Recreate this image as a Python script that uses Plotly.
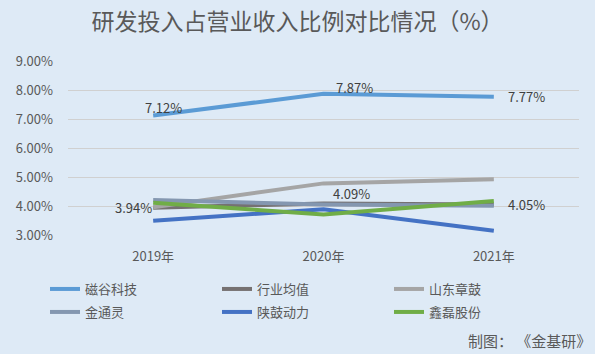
import plotly.graph_objects as go

years = ["2019年", "2020年", "2021年"]
series_names = ["磁谷科技", "行业均值", "山东章鼓", "金通灵", "陕鼓动力", "鑫磊股份"]
cigu = [0.0712, 0.0787, 0.0777]
industry_avg = [0.0394, 0.0409, 0.0405]
shandong = [0.0396, 0.0478, 0.0492]
jintongling = [0.0421, 0.0405, 0.0401]
shaangu = [0.0349, 0.0389, 0.0315]
xinlei = [0.0411, 0.0371, 0.0417]
series_values = [cigu, industry_avg, shandong, jintongling, shaangu, xinlei]
colors = ["#5B9BD5", "#757171", "#A5A5A5", "#8497B0", "#4472C4", "#70AD47"]
y_ticks = [0.03, 0.04, 0.05, 0.06, 0.07, 0.08, 0.09]
y_tick_labels = ["3.00%", "4.00%", "5.00%", "6.00%", "7.00%", "8.00%", "9.00%"]

font = "Noto Sans CJK SC"
bg = "#DEEAF6"

fig = go.Figure()
for i, (name, vals, c) in enumerate(zip(series_names, series_values, colors)):
    fig.add_trace(go.Scatter(x=years, y=vals, name=name, mode="lines",
                             line=dict(color=c, width=4),
                             legend="legend" if i < 3 else "legend2"))

# data labels for 磁谷科技 and 行业均值
label_shifts = [(10, 8), (31, 6), (33, 0)]
label_shifts2 = [(-20, 0), (28, 10), (33, 0)]
for vals, shifts in ((cigu, label_shifts), (industry_avg, label_shifts2)):
    for x, v, (dx, dy) in zip(years, vals, shifts):
        fig.add_annotation(x=x, y=v, text=f"{v*100:.2f}%", showarrow=False,
                           xshift=dx, yshift=dy,
                           font=dict(family=font, size=13, color="#404040"))

fig.add_annotation(text="制图： 《金基研》", xref="paper", yref="paper",
                   x=(593 - 68) / 511, y=-(340 - 235) / 174, xanchor="right", yanchor="middle",
                   showarrow=False, font=dict(family=font, size=15, color="#595959"))

legend_common = dict(orientation="h", xanchor="left", yanchor="middle",
                     entrywidth=127, entrywidthmode="pixels", itemwidth=30,
                     bgcolor="rgba(0,0,0,0)",
                     font=dict(family=font, size=13, color="#595959"))

fig.update_layout(
    width=595, height=354,
    paper_bgcolor=bg, plot_bgcolor=bg,
    margin=dict(l=68, r=16, t=61, b=119),
    title=dict(text="研发投入占营业收入比例对比情况（%）", x=0.5, xanchor="center",
               y=1 - 22 / 354, yanchor="middle",
               font=dict(family=font, size=23, color="#595959")),
    xaxis=dict(showgrid=False, showline=False, zeroline=False, ticks="",
               range=[-0.5, 2.5], ticklabelstandoff=12,
               tickfont=dict(family=font, size=13, color="#595959")),
    yaxis=dict(range=[0.03, 0.09], tickvals=y_ticks, ticktext=y_tick_labels,
               showgrid=True, gridcolor="#D0D0D0", gridwidth=1, zeroline=False,
               showline=False, ticks="", ticklabelstandoff=14,
               tickfont=dict(family=font, size=13, color="#595959")),
    legend=dict(x=-0.045, y=-(289 - 235) / 174, **legend_common),
    legend2=dict(x=-0.045, y=-(312 - 235) / 174, **legend_common),
    showlegend=True,
)
fig.write_html("out.html")
